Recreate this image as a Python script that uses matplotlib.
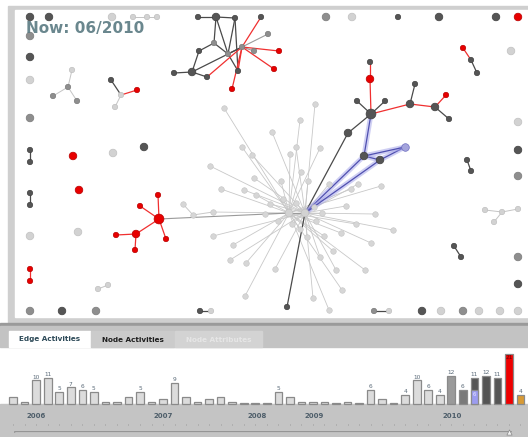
import numpy as np
import matplotlib
matplotlib.use("Agg")
import matplotlib.pyplot as plt
from matplotlib.patches import Rectangle

# ── Data ─────────────────────────────────────────────────────

# network nodes: name, x, y (layout px), kind, size
NODES = [
    # top row
    ("t1", 30, 17, "dark", "m"), ("t2", 49, 17, "dark", "m"), ("t3", 112, 17, "light", "m"),
    ("tc1", 133, 17, "light", "s"), ("tc2", 147, 17, "light", "s"), ("tc3", 157, 17, "light", "s"),
    ("t4", 326, 17, "mid", "m"), ("t5", 352, 17, "light", "m"), ("t6", 398, 17, "dark", "s"),
    ("t7", 439, 17, "dark", "m"), ("t8", 496, 17, "dark", "m"), ("t9", 518, 17, "red", "m"),
    # left column
    ("l1", 30, 36, "mid", "m"), ("l2", 30, 57, "dark", "m"), ("l3", 30, 80, "light", "m"),
    ("l4", 30, 118, "mid", "m"), ("l5", 30, 150, "dark", "s"), ("l6", 30, 162, "dark", "s"),
    ("l7", 30, 193, "dark", "s"), ("l8", 30, 205, "dark", "s"), ("l9", 30, 236, "light", "m"),
    ("l10", 30, 269, "red", "s"), ("l11", 30, 281, "red", "s"),
    # bottom row
    ("b1", 30, 311, "mid", "m"), ("b2", 62, 311, "dark", "m"), ("b3", 96, 311, "mid", "m"),
    ("b4", 200, 311, "dark", "s"), ("b5", 211, 311, "light", "s"),
    ("b6", 374, 311, "mid", "s"), ("b7", 389, 311, "light", "s"), ("b8", 422, 311, "dark", "m"),
    ("b9", 441, 311, "light", "m"), ("b10", 463, 311, "mid", "m"), ("b11", 479, 311, "light", "m"),
    ("b12", 500, 311, "light", "m"), ("b13", 518, 311, "light", "m"),
    # scattered singles
    ("s1", 73, 156, "red", "m"), ("s2", 79, 190, "red", "m"), ("s3", 78, 232, "light", "m"),
    ("s4", 113, 153, "light", "m"), ("s5", 144, 147, "dark", "m"),
    ("s6", 98, 289, "light", "s"), ("s7", 108, 285, "light", "s"),
    ("s8", 511, 51, "light", "m"), ("s9", 518, 122, "light", "m"), ("s10", 518, 150, "dark", "m"),
    ("s11", 518, 176, "mid", "m"), ("s12", 518, 257, "mid", "m"), ("s13", 518, 284, "dark", "m"),
    ("s14", 467, 160, "dark", "s"), ("s15", 471, 171, "dark", "s"),
    ("s16", 454, 246, "dark", "s"), ("s17", 461, 257, "dark", "s"),
    ("s18", 463, 48, "red", "s"), ("s19", 471, 60, "dark", "s"), ("s20", 477, 73, "dark", "s"),
    # small triads
    ("a0", 68, 87, "mid", "s"), ("a1", 72, 70, "light", "s"), ("a2", 53, 96, "mid", "s"), ("a3", 77, 101, "mid", "s"),
    ("g0", 121, 95, "light", "s"), ("g1", 111, 80, "dark", "s"), ("g2", 137, 90, "red", "s"), ("g3", 115, 107, "light", "s"),
    ("q0", 502, 212, "light", "s"), ("q1", 485, 210, "light", "s"), ("q2", 518, 209, "light", "s"), ("q3", 494, 222, "light", "s"),
    # red cluster
    ("r0", 159, 219, "red", "l"), ("r1", 158, 195, "red", "s"), ("r2", 140, 206, "red", "s"),
    ("r3", 166, 239, "red", "s"), ("r4", 136, 234, "red", "m"), ("r5", 116, 235, "red", "s"),
    ("r6", 135, 250, "red", "s"),
    # top cluster
    ("cA", 198, 17, "dark", "s"), ("cB", 216, 17, "dark", "m"), ("cC", 235, 18, "dark", "s"),
    ("cD", 261, 17, "dark", "s"), ("cE", 268, 34, "mid", "s"), ("cF", 214, 43, "mid", "s"),
    ("cG", 199, 51, "dark", "s"), ("cH", 228, 54, "mid", "s"), ("cI", 254, 51, "mid", "s"),
    ("cJ", 279, 51, "red", "s"), ("cK", 274, 69, "red", "s"), ("cL", 192, 72, "dark", "m"),
    ("cM", 174, 73, "dark", "s"), ("cN", 207, 77, "dark", "s"), ("cO", 238, 71, "dark", "s"),
    ("cP", 232, 89, "red", "s"), ("cX", 242, 47, "mid", "s"),
    # right-top cluster
    ("k1", 370, 62, "dark", "s"), ("k2", 370, 79, "red", "m"), ("k3", 357, 101, "dark", "s"),
    ("k4", 385, 101, "dark", "s"), ("k0", 371, 114, "dark", "l"), ("k5", 410, 104, "dark", "m"),
    ("k6", 415, 84, "dark", "s"), ("k7", 435, 107, "dark", "m"), ("k8", 446, 95, "red", "s"),
    ("k9", 449, 119, "dark", "s"), ("k10", 348, 133, "dark", "m"),
    # highlighted nodes
    ("u1", 364, 156, "dark", "m"), ("u2", 380, 160, "dark", "m"), ("u3", 405, 147, "blue", "m"),
    # hub
    ("h1", 289, 213, "light", "m"), ("h2", 305, 213, "light", "m"), ("hd", 287, 307, "dark", "s"),
]

# light gray nodes hanging off the hub
SPOKES = [
    (224, 108), (315, 104), (300, 120), (272, 132), (242, 147), (252, 155), (290, 154),
    (296, 147), (320, 148), (210, 166), (301, 172), (254, 178), (281, 181), (308, 181),
    (221, 189), (244, 190), (256, 195), (329, 184), (351, 189), (346, 206), (213, 212),
    (358, 184), (381, 186), (213, 236), (233, 245), (230, 260), (246, 263), (275, 269),
    (245, 296), (375, 214), (356, 224), (393, 230), (341, 233), (307, 237), (324, 236),
    (371, 243), (333, 251), (320, 257), (365, 270), (336, 270), (342, 290), (313, 298),
    (329, 310), (270, 204), (283, 199), (296, 203), (278, 221), (292, 224), (300, 229),
    (314, 207), (316, 221), (265, 214), (322, 213),
]
CHAIN = [(183, 204), (193, 215)]  # feed into (213, 212)

EDGES = [
    ("tc1", "tc2", "light"), ("tc2", "tc3", "light"),
    ("l5", "l6", "dark"), ("l7", "l8", "dark"), ("l10", "l11", "red"),
    ("b4", "b5", "dark"), ("b6", "b7", "dark"), ("s6", "s7", "light"),
    ("s14", "s15", "dark"), ("s16", "s17", "dark"),
    ("s18", "s19", "red"), ("s19", "s20", "dark"),
    ("a0", "a1", "light"), ("a0", "a2", "light"), ("a0", "a3", "light"),
    ("g1", "g0", "dark"), ("g2", "g0", "red"), ("g0", "g3", "light"),
    ("q1", "q0", "light"), ("q2", "q0", "light"), ("q3", "q0", "light"),
    ("r1", "r0", "red"), ("r2", "r0", "red"), ("r3", "r0", "red"),
    ("r0", "r4", "red"), ("r4", "r5", "red"), ("r4", "r6", "red"),
    ("r0", "h1", "mid"),
    ("cA", "cB", "dark"), ("cB", "cC", "dark"), ("cB", "cF", "dark"), ("cB", "cH", "dark"),
    ("cC", "cO", "dark"), ("cC", "cH", "dark"), ("cF", "cG", "dark"), ("cG", "cL", "dark"),
    ("cL", "cM", "dark"), ("cL", "cN", "dark"), ("cF", "cH", "dark"), ("cH", "cX", "dark"),
    ("cX", "cL", "dark"), ("cH", "cO", "dark"), ("cE", "cX", "mid"), ("cI", "cX", "mid"),
    ("cX", "cD", "red"), ("cX", "cJ", "red"), ("cX", "cK", "red"), ("cP", "cX", "red"),
    ("cX", "cN", "red"), ("cO", "cX", "red"),
    ("k1", "k2", "red"), ("k2", "k0", "red"), ("k3", "k0", "dark"), ("k4", "k0", "dark"),
    ("k5", "k0", "red"), ("k6", "k5", "dark"), ("k5", "k7", "red"), ("k8", "k7", "red"),
    ("k7", "k9", "dark"), ("k0", "k10", "dark"), ("k10", "h2", "dark"),
    ("h2", "hd", "dark"), ("h1", "h2", "mid"),
]
BLUE_EDGES = [("h2", "u1"), ("h2", "u2"), ("u1", "u2"), ("u2", "u3"), ("u1", "u3"), ("k0", "u1")]

# edge activity per month (bottom timeline)
ACTIVITY = [3, 1, 10, 11, 5, 7, 6, 5, 1, 1, 3, 5, 1, 2, 9, 3, 1, 2, 3, 1, 0, 0, 0,
            5, 3, 1, 1, 1, 0, 1, 0, 6, 2, 0, 4, 10, 6, 4, 12, 6, 11, 12, 11, 21, 4]
BLUE_PART = {40: 6}
BAR_COLORS = ["#dcdcdc"] * 38 + ["#9a9a9a", "#7a7a7a", "#555555", "#555555", "#555555",
                                 "#ee0000", "#d89a34"]
YEARS = ["2006", "2007", "2008", "2009", "2010"]
YEAR_POS = [2.0, 13.0, 21.2, 26.1, 38.1]
NOW_INDEX = 43
TABS = ["Edge Activities", "Node Activities", "Node Attributes"]

# ── Style ────────────────────────────────────────────────────

KIND_COLOR = {"dark": "#555555", "mid": "#8e8e8e", "light": "#d2d2d2",
              "red": "#e80000", "blue": "#a4a4dc"}
KIND_EDGE = {"dark": "#404040", "mid": "#7a7a7a", "light": "#c0c0c0",
             "red": "#b80000", "blue": "#7070c0"}
SIZE = {"s": 15, "m": 30, "l": 50}
LINE = {"dark": ("#4a4a4a", 0.9), "mid": ("#9a9a9a", 0.8),
        "light": ("#c4c4c4", 0.7), "red": ("#f03030", 0.9)}

fig = plt.figure(figsize=(5.28, 4.37), dpi=100)
ax = fig.add_axes([0, 0, 1, 1])
ax.set_xlim(0, 528)
ax.set_ylim(437, 0)
ax.axis("off")

# frame + panels
ax.add_patch(Rectangle((0, 0), 528, 437, color="white", zorder=0))
ax.add_patch(Rectangle((8, 6), 520, 317, color="#cfcfcf", zorder=0))
ax.add_patch(Rectangle((15, 10), 513, 307, color="white", zorder=0))
ax.add_patch(Rectangle((0, 323), 528, 3, color="#9a9a9a", zorder=0))
ax.add_patch(Rectangle((0, 326), 528, 21, color="#c3c3c3", zorder=0))
tab_x = [9, 91, 175]
tab_w = [81, 83, 87]
tab_fill = ["white", "#cbcbcb", "#d3d3d3"]
tab_txt = ["#2d4a58", "#1e1e1e", "#e6e6e6"]
for name, x0, w, fc, tc in zip(TABS, tab_x, tab_w, tab_fill, tab_txt):
    ax.add_patch(Rectangle((x0, 331), w, 16, color=fc, zorder=1))
    ax.text(x0 + w / 2, 339.5, name, ha="center", va="center", fontsize=5.2,
            fontweight="bold", color=tc, zorder=2)

pos = {n: (x, y) for n, x, y, k, s in NODES}

# edges
for i, (x, y) in enumerate(SPOKES):
    hx, hy = pos["h1"] if i % 2 == 0 else pos["h2"]
    ax.plot([x, hx], [y, hy], color="#c8c8c8", lw=0.6, zorder=2)
chain = CHAIN + [(213, 212)]
for (x0, y0), (x1, y1) in zip(chain[:-1], chain[1:]):
    ax.plot([x0, x1], [y0, y1], color="#c8c8c8", lw=0.7, zorder=2)

for a, b, kind in EDGES:
    c, lw = LINE[kind]
    ax.plot([pos[a][0], pos[b][0]], [pos[a][1], pos[b][1]], color=c, lw=lw,
            zorder=3 if kind != "light" else 2, solid_capstyle="round")

for a, b in BLUE_EDGES:
    xs = [pos[a][0], pos[b][0]]
    ys = [pos[a][1], pos[b][1]]
    ax.plot(xs, ys, color="#a0a0e8", lw=3.6, alpha=0.5, zorder=3, solid_capstyle="round")
    ax.plot(xs, ys, color="#5050b0", lw=0.9, zorder=3)

# nodes
for kind in ["light", "mid", "dark", "red", "blue"]:
    sel = [(x, y, SIZE[s]) for n, x, y, k, s in NODES if k == kind]
    if not sel:
        continue
    xs, ys, ss = zip(*sel)
    ax.scatter(xs, ys, s=ss, c=KIND_COLOR[kind], edgecolors=KIND_EDGE[kind],
               linewidths=0.5, zorder=5)
sx, sy = zip(*(SPOKES + CHAIN))
ax.scatter(sx, sy, s=16, c="#d6d6d6", edgecolors="#c4c4c4", linewidths=0.4, zorder=4)

ax.text(26, 29, "Now: 06/2010", fontsize=11, fontweight="bold", color="#5a7a82",
        ha="left", va="center", zorder=6, alpha=0.9)

# ── Timeline ─────────────────────────────────────────────────
px_per_unit = 2.36
tl = fig.add_axes([0, 0, 1, (437 - 346) / 437])
tl.set_xlim((0 - 13.15) / 11.53, (528 - 13.15) / 11.53)
tl.set_ylim(-(437 - 404) / px_per_unit, (404 - 346) / px_per_unit)
tl.axis("off")
tl.axhspan(tl.get_ylim()[0], 0, color="#c4c4c4", zorder=0)

idx = np.arange(len(ACTIVITY))
heights = np.maximum(np.array(ACTIVITY, float), 0.6)
tl.bar(idx, heights, width=0.66, color=BAR_COLORS, edgecolor="#8a8a8a", linewidth=0.9,
       zorder=2)
for i, v in BLUE_PART.items():
    tl.bar(i, v, width=0.66, color="#9c9cf0", edgecolor="#8a8a8a", linewidth=0.9, zorder=3)
    tl.text(i, v - 0.8, str(v), ha="center", va="top", fontsize=3.8, color="#e8e8ff", zorder=4)
for i, v in enumerate(ACTIVITY):
    if v >= 4:
        if i == 43:
            tl.text(i, v - 0.4, str(v), ha="center", va="top", fontsize=4.2, color="#700000", zorder=4)
        else:
            tl.text(i, v + 0.3, str(v), ha="center", va="bottom", fontsize=4.2,
                    color="#5a6a78", zorder=4)

for yr, xp in zip(YEARS, YEAR_POS):
    tl.text(xp, -12 / px_per_unit, yr, ha="center", va="center", fontsize=5,
            fontweight="bold", color="#4e5e6a")
tl.vlines(idx, -21 / px_per_unit, -19.5 / px_per_unit, color="#8a8a8a", lw=0.5)
tl.plot([0.15, 43.2], [-27.5 / px_per_unit] * 2, color="#8c8c8c", lw=1.2)
tl.plot([0.15, 43.2], [-28.3 / px_per_unit] * 2, color="#e0e0e0", lw=0.4)
tl.scatter([NOW_INDEX], [-27.5 / px_per_unit], marker="^", s=14, c="#f4f4f4",
           edgecolors="#888888", linewidths=0.5, zorder=5)

fig.savefig("out.png", dpi=100)
